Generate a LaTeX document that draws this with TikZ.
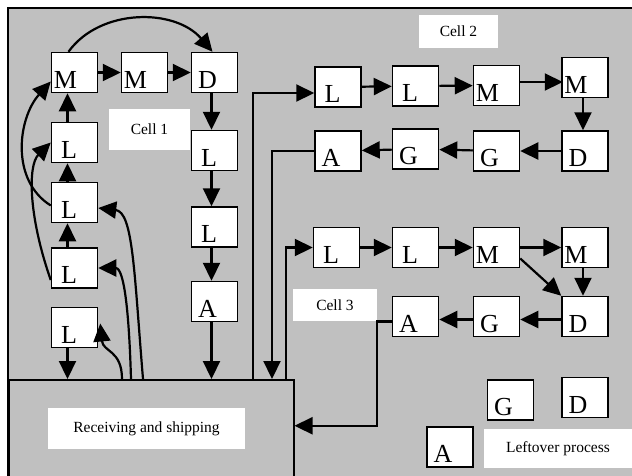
\documentclass[tikz,border=0pt]{standalone}
\usepackage{fontspec}
\setmainfont{Liberation Serif}
\usetikzlibrary{arrows.meta}
\definecolor{panel}{RGB}{192,192,192}
\tikzset{
  >={Triangle[length=18pt,width=17pt]},
  stn/.style={draw,line width=1.5pt,fill=white,minimum width=46pt,minimum height=40pt,
    inner sep=0pt,text height=31pt,text depth=0pt,font=\fontsize{26}{26}\selectfont},
  tag/.style={fill=white,inner sep=0pt,font=\fontsize{15.5}{18}\selectfont},
  flow/.style={->,line width=2.2pt},
}
% letters sit at the right of the box centre
\newcommand\lett[1]{\makebox[0pt][r]{#1\kern-2.5pt}}

\begin{document}
\begin{tikzpicture}[x=1pt,y=-1pt]
  \useasboundingbox (0,0) rectangle (632,475);
  \path[fill=panel,draw,line width=2.5pt] (8,8) rectangle (650,495);
  \node[draw,fill=panel,line width=1.5pt,inner sep=0pt,anchor=north west,
    minimum width=285pt,minimum height=110pt] (recv) at (8,379) {};

  % labels
  \node[tag,minimum width=197pt,minimum height=41pt] (recvlbl) at (146.5,428.5) {Receiving and shipping};
  \node[tag,minimum width=81pt,minimum height=41pt] (c1lbl) at (149.5,129.5) {Cell 1};
  \node[tag,minimum width=79pt,minimum height=33pt] (c2lbl) at (458.5,31.5) {Cell 2};
  \node[tag,minimum width=84pt,minimum height=32pt] (c3lbl) at (335,305) {Cell 3};
  \node[tag,minimum width=148pt,minimum height=39pt] (leftlbl) at (558,448.5) {Leftover process};

  % cell 1
  \node[stn] (m1) at (74.5,72.5) {\lett{M}};
  \node[stn] (m2) at (144.5,72.5) {\lett{M}};
  \node[stn] (d1) at (214.5,72.5) {\lett{D}};
  \node[stn] (l1a) at (74.5,142.5) {\lett{L}};
  \node[stn] (l1b) at (74.5,202.5) {\lett{L}};
  \node[stn] (l1c) at (74.5,268) {\lett{L}};
  \node[stn] (l1d) at (74.5,327.5) {\lett{L}};
  \node[stn] (l1e) at (214.5,150.5) {\lett{L}};
  \node[stn] (l1f) at (214.5,227) {\lett{L}};
  \node[stn] (a1) at (214.5,301.5) {\lett{A}};

  \draw[flow] (m1) -- (m2);
  \draw[flow] (m2) -- (d1);
  \draw[flow] ([xshift=-3pt]d1.south) -- ([xshift=-3pt]l1e.north);
  \draw[flow] ([xshift=-3pt]l1e.south) -- ([xshift=-3pt]l1f.north);
  \draw[flow] ([xshift=-3pt]l1f.south) -- ([xshift=-3pt]a1.north);
  \draw[flow] ([xshift=-3pt]a1.south) -- ([xshift=-3pt]a1.south |- recv.north);
  \draw[flow] ([xshift=-7pt]l1a.north) -- ([xshift=-7pt]m1.south);
  \draw[flow] ([xshift=-7pt]l1b.north) -- ([xshift=-7pt]l1a.south);
  \draw[flow] ([xshift=-7pt]l1c.north) -- ([xshift=-7pt]l1b.south);
  \draw[flow] ([xshift=-7pt]l1d.south) -- ([xshift=-7pt]l1d.south |- recv.north);
  \draw[flow] ([xshift=-6pt]m1.north) .. controls (100,8) and (175,8) .. ([xshift=-2pt]d1.north);
  \draw[flow] ([yshift=-3pt]l1b.west) .. controls (10,180) and (18,118) .. ([yshift=-9pt]m1.west);
  \draw[flow] ([yshift=-12pt]l1c.west) .. controls (28,215) and (28,165) .. (l1a.west);
  \draw[flow] ([xshift=114pt]recv.north west) .. controls (122,350) and (103,352) .. ([xshift=2pt,yshift=4pt]l1d.east);
  \draw[flow] ([xshift=123pt]recv.north west) .. controls (129,310) and (124,268) .. (l1c.east);
  \draw[flow] ([xshift=135pt]recv.north west) .. controls (134,270) and (133,212) .. ([yshift=-5.5pt]l1b.east);

  % cell 2
  \node[stn] (l2a) at (338,87) {\lett{L}};
  \node[stn] (l2b) at (415.5,86) {\lett{L}};
  \node[stn] (m2a) at (496.5,85.5) {\lett{M}};
  \node[stn] (m2b) at (585,77.5) {\lett{M}};
  \node[stn] (a2) at (338,151) {\lett{A}};
  \node[stn] (g2a) at (415.5,149) {\lett{G}};
  \node[stn] (g2b) at (496.5,151) {\lett{G}};
  \node[stn] (d2) at (585,151) {\lett{D}};

  \draw[flow] (l2a) -- (l2b);
  \draw[flow] (l2b) -- (m2a);
  \draw[flow] ([yshift=3.5pt]m2a.east) -- ++(42.5,0);
  \draw[flow] ([xshift=-2pt]m2b.south) -- ([xshift=-2pt]d2.north);
  \draw[flow] (d2) -- (g2b);
  \draw[flow] (g2b) -- (g2a);
  \draw[flow] (g2a) -- (a2);
  \draw[flow] ([xshift=245pt]recv.north west) |- ([yshift=-6pt]l2a.west);
  \draw[flow] (a2.west) -| ([xshift=264pt]recv.north west);

  % cell 3
  \node[stn] (l3a) at (336.5,247.5) {\lett{L}};
  \node[stn] (l3b) at (415.5,247.5) {\lett{L}};
  \node[stn] (m3a) at (496.5,247.5) {\lett{M}};
  \node[stn] (m3b) at (585,247.5) {\lett{M}};
  \node[stn] (a3) at (415.5,316.5) {\lett{A}};
  \node[stn] (g3) at (496.5,316.5) {\lett{G}};
  \node[stn] (d3) at (585,316.5) {\lett{D}};

  \draw[flow] (l3a) -- (l3b);
  \draw[flow] (l3b) -- (m3a);
  \draw[flow] (m3a) -- (m3b);
  \draw[flow] ([yshift=-11pt]m3a.east) -- (d3.north west);
  \draw[flow] ([xshift=-2pt]m3b.south) -- ([xshift=-2pt]d3.north);
  \draw[flow] ([yshift=-3pt]d3.west) -- ([yshift=-3pt]g3.east);
  \draw[flow] ([yshift=-3pt]g3.west) -- ([yshift=-3pt]a3.east);
  \draw[flow] ([xshift=278pt]recv.north west) |- (l3a.west);
  \draw[flow] ([yshift=-5pt]a3.west) -- ++(-15,0) |- ([yshift=9pt]recv.east);

  % leftover
  \node[stn] (g4) at (510.5,400) {\lett{G}};
  \node[stn] (d4) at (585,397.5) {\lett{D}};
  \node[stn] (a4) at (450,447) {\lett{A}};
\end{tikzpicture}
\end{document}
